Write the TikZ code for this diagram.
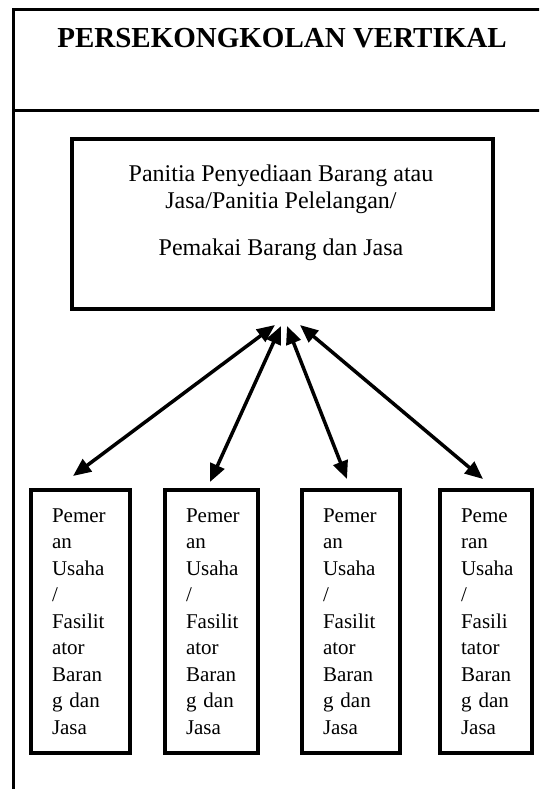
\documentclass[tikz,border=0pt]{standalone}
\usepackage{fontspec}
\setmainfont{Liberation Serif}
\usetikzlibrary{arrows.meta}
\begin{document}
\begin{tikzpicture}[x=1pt,y=-1pt,
  frame/.style={line width=3},
  mainbox/.style={draw, line width=4, minimum width=421, minimum height=170, inner sep=0},
  maintext/.style={font=\rmfamily\fontsize{24}{26.5}\selectfont, align=center, inner sep=0},
  actor/.style={draw, line width=4, minimum height=263, inner xsep=21, inner ysep=0, align=left, text width=#1, anchor=north west, font=\rmfamily\fontsize{21}{26.5}\selectfont\hyphenpenalty10000\exhyphenpenalty10000},
  link/.style={line width=3.5, {Triangle[length=18pt,width=15pt]}-{Triangle[length=18pt,width=15pt]}},
  titletext/.style={font=\rmfamily\fontsize{29}{34}\selectfont\bfseries, inner sep=0, anchor=base}
]
\useasboundingbox (0,0) rectangle (539,789);
\clip (0,0) rectangle (539,789);
\fill[white] (0,0) rectangle (539,789);
% outer frame (clipped on right and bottom)
\draw[frame] (13.5,800) -- (13.5,10) -- (560,10);
\draw[frame] (13.5,111) -- (560,111);
\node[titletext] (title) at (282,48) {PERSEKONGKOLAN VERTIKAL};
% main box
\node[mainbox] (panitia) at (282.5,224) {};
\node[maintext, anchor=base] (ptext) at (281,255) {Panitia Penyediaan Barang atau\\Jasa/Panitia Pelelangan/\\[20.5pt]Pemakai Barang dan Jasa};
% bottom boxes
\node[actor=57] (a1) at (29,488) {Pemer\\an\\Usaha\\/\\Fasilit\\ator\\Baran\\g dan\\Jasa};
\node[actor=51] (a2) at (163,488) {Pemer\\an\\Usaha\\/\\Fasilit\\ator\\Baran\\g dan\\Jasa};
\node[actor=56] (a3) at (300,488) {Pemer\\an\\Usaha\\/\\Fasilit\\ator\\Baran\\g dan\\Jasa};
\node[actor=50] (a4) at (438,488) {Peme\\ran\\Usaha\\/\\Fasili\\tator\\Baran\\g dan\\Jasa};
% arrow ends
\coordinate (u1) at (275,325); \coordinate (d1) at (73,476);
\coordinate (u2) at (281,326); \coordinate (d2) at (210,482);
\coordinate (u3) at (287,326); \coordinate (d3) at (347,479);
\coordinate (u4) at (300,325); \coordinate (d4) at (483,479);
\draw[link] (d1) -- (u1);
\draw[link] (d2) -- (u2);
\draw[link] (d3) -- (u3);
\draw[link] (d4) -- (u4);
\end{tikzpicture}
\end{document}
